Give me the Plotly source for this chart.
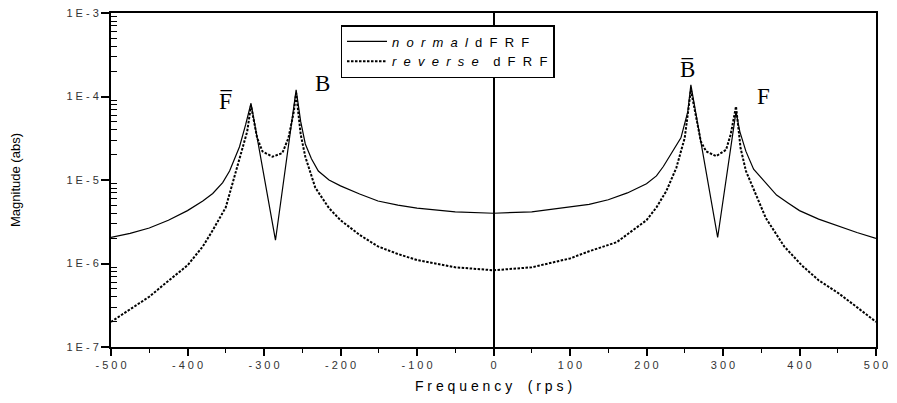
import math
import plotly.graph_objects as go

# Frequencies (rps) and magnitudes
normal_freq = [-500, -475, -450, -425, -400, -380, -367, -354, -345, -338, -332, -324, -317,
               -285, -258, -252, -246, -238, -229, -215, -200, -175, -151, -125, -100, -50, 0,
               50, 100, 125, 150, 175, 200, 213, 222, 230, 238, 245, 254, 258,
               293, 317, 322, 330, 340, 356, 370, 385, 400, 425, 450, 475, 500]
normal_mag = [2.05e-6, 2.3e-6, 2.66e-6, 3.3e-6, 4.3e-6, 5.6e-6, 6.9e-6, 9.3e-6, 1.28e-5, 1.8e-5, 2.5e-5, 4.6e-5, 8.3e-5,
              1.9e-6, 1.2e-4, 5.0e-5, 2.7e-5, 1.8e-5, 1.28e-5, 1.0e-5, 8.5e-6, 6.8e-6, 5.6e-6, 5.0e-6, 4.6e-6, 4.15e-6, 4.0e-6,
              4.15e-6, 4.7e-6, 5.1e-6, 5.8e-6, 7.0e-6, 9.0e-6, 1.12e-5, 1.45e-5, 1.9e-5, 2.5e-5, 3.2e-5, 6.6e-5, 1.38e-4,
              2.05e-6, 6.6e-5, 3.8e-5, 2.2e-5, 1.35e-5, 9.3e-6, 6.6e-6, 5.3e-6, 4.3e-6, 3.4e-6, 2.8e-6, 2.35e-6, 2.0e-6]

reverse_freq = [-500, -475, -450, -425, -400, -380, -367, -350, -337, -329, -322, -317,
                -309, -302, -289, -276, -268, -261, -258, -252, -246, -233, -215, -200, -175, -151, -125, -100, -50, 0,
                50, 100, 125, 161, 180, 200, 213, 226, 239, 250, 258,
                265, 271, 278, 291, 304, 310, 317, 323, 330, 343, 356, 380, 403, 425, 451, 475, 500]
reverse_mag = [2.0e-7, 2.8e-7, 4.0e-7, 6.2e-7, 9.5e-7, 1.6e-6, 2.5e-6, 4.7e-6, 1.2e-5, 2.2e-5, 3.8e-5, 7.8e-5,
               3.2e-5, 2.2e-5, 1.9e-5, 2.1e-5, 3.2e-5, 6.6e-5, 1.1e-4, 3.5e-5, 1.9e-5, 8.1e-6, 4.6e-6, 3.3e-6, 2.2e-6, 1.6e-6, 1.3e-6, 1.1e-6, 9.0e-7, 8.3e-7,
               9.0e-7, 1.15e-6, 1.4e-6, 1.8e-6, 2.4e-6, 3.3e-6, 4.7e-6, 7.4e-6, 1.4e-5, 3.2e-5, 1.2e-4,
               5.5e-5, 2.9e-5, 2.2e-5, 1.93e-5, 2.3e-5, 3.5e-5, 7.6e-5, 2.4e-5, 1.28e-5, 6.8e-6, 3.5e-6, 1.6e-6, 9.5e-7, 6.3e-7, 4.4e-7, 3.0e-7, 2.0e-7]

x_tickvals = [-500, -400, -300, -200, -100, 0, 100, 200, 300, 400, 500]
x_tickwords = ["-500", "-400", "-300", "-200", "-100", "0", "100", "200", "300", "400", "500"]
y_tickvals = [1e-7, 1e-6, 1e-5, 1e-4, 1e-3]
y_tickwords = ["1E-7", "1E-6", "1E-5", "1E-4", "1E-3"]
y_minor_tickvals = [m * 10.0 ** e for e in range(-7, -3) for m in range(2, 10)]

peak_labels = ["F\u0305", "B", "B\u0305", "F"]
peak_label_freq = [-350, -223, 254, 353]
peak_label_mag = [8.7e-5, 1.43e-4, 2.1e-4, 1.0e-4]

S = "\u00a0"
def spaced(word, sep=S + " "):
    return sep.join(word)

x_ticktext = [spaced(w, S) for w in x_tickwords]
y_ticktext = [spaced(w, S) for w in y_tickwords]

fig = go.Figure()
fig.add_trace(go.Scatter(
    x=normal_freq, y=normal_mag, mode="lines",
    name="<i>" + spaced("normal") + "</i>" + S + " " + spaced("dFRF"),
    line=dict(color="black", width=1.2),
))
fig.add_trace(go.Scatter(
    x=reverse_freq, y=reverse_mag, mode="lines",
    name="<i>" + spaced("reverse") + "</i>" + S + " " + S + " " + spaced("dFRF"),
    line=dict(color="black", width=2, dash="2.5px,1.5px"),
))

for t, fx, fy in zip(peak_labels, peak_label_freq, peak_label_mag):
    fig.add_annotation(x=fx, y=math.log10(fy), yref="y", xref="x", text=t, showarrow=False,
                       font=dict(family="Liberation Serif, Times New Roman, serif", size=23, color="black"))

axis_font = dict(family="Liberation Sans, Arial, sans-serif", size=11, color="#333")

# figure sized to fit the window inside the page's default 8px body margin
fig.update_layout(
    width=881, height=387,
    margin=dict(l=103, r=13, t=5, b=48),
    paper_bgcolor="white", plot_bgcolor="white",
    showlegend=True,
    legend=dict(x=0.3, y=0.964, xanchor="left", yanchor="top",
                bgcolor="white", bordercolor="black", borderwidth=1.5,
                font=dict(family="Liberation Sans, Arial, sans-serif", size=13, color="black"),
                tracegroupgap=0, itemwidth=40),
    xaxis=dict(
        range=[-500, 500], tickmode="array", tickvals=x_tickvals, ticktext=x_ticktext,
        showgrid=False, zeroline=True, zerolinecolor="black", zerolinewidth=2,
        showline=True, linecolor="black", linewidth=2, mirror=True,
        ticks="outside", ticklen=7, tickwidth=1.5, tickcolor="black",
        minor=dict(dtick=50, ticks="outside", ticklen=4, tickwidth=1.2, tickcolor="black"),
        tickfont=axis_font, automargin=False, ticklabeloverflow="allow",
        title=dict(text=" ".join("Frequency") + S + " " + S + " " + " ".join("(rps)"),
                   font=dict(family="Liberation Sans, Arial, sans-serif", size=14, color="black"),
                   standoff=11),
    ),
    yaxis=dict(
        type="log", range=[-7, -3], tickmode="array", tickvals=y_tickvals, ticktext=y_ticktext,
        showgrid=False, zeroline=False,
        showline=True, linecolor="black", linewidth=2, mirror=True,
        ticks="outside", ticklen=8, tickwidth=1.5, tickcolor="black",
        minor=dict(tickmode="array", tickvals=y_minor_tickvals, ticks="inside", ticklen=6,
                   tickwidth=1, tickcolor="black", showgrid=False),
        tickfont=axis_font, automargin=False, ticklabeloverflow="allow",
        title=dict(text="Magnitude (abs)",
                   font=dict(family="Liberation Sans, Arial, sans-serif", size=13, color="black"),
                   standoff=52),
    ),
)

fig.write_html("out.html")
